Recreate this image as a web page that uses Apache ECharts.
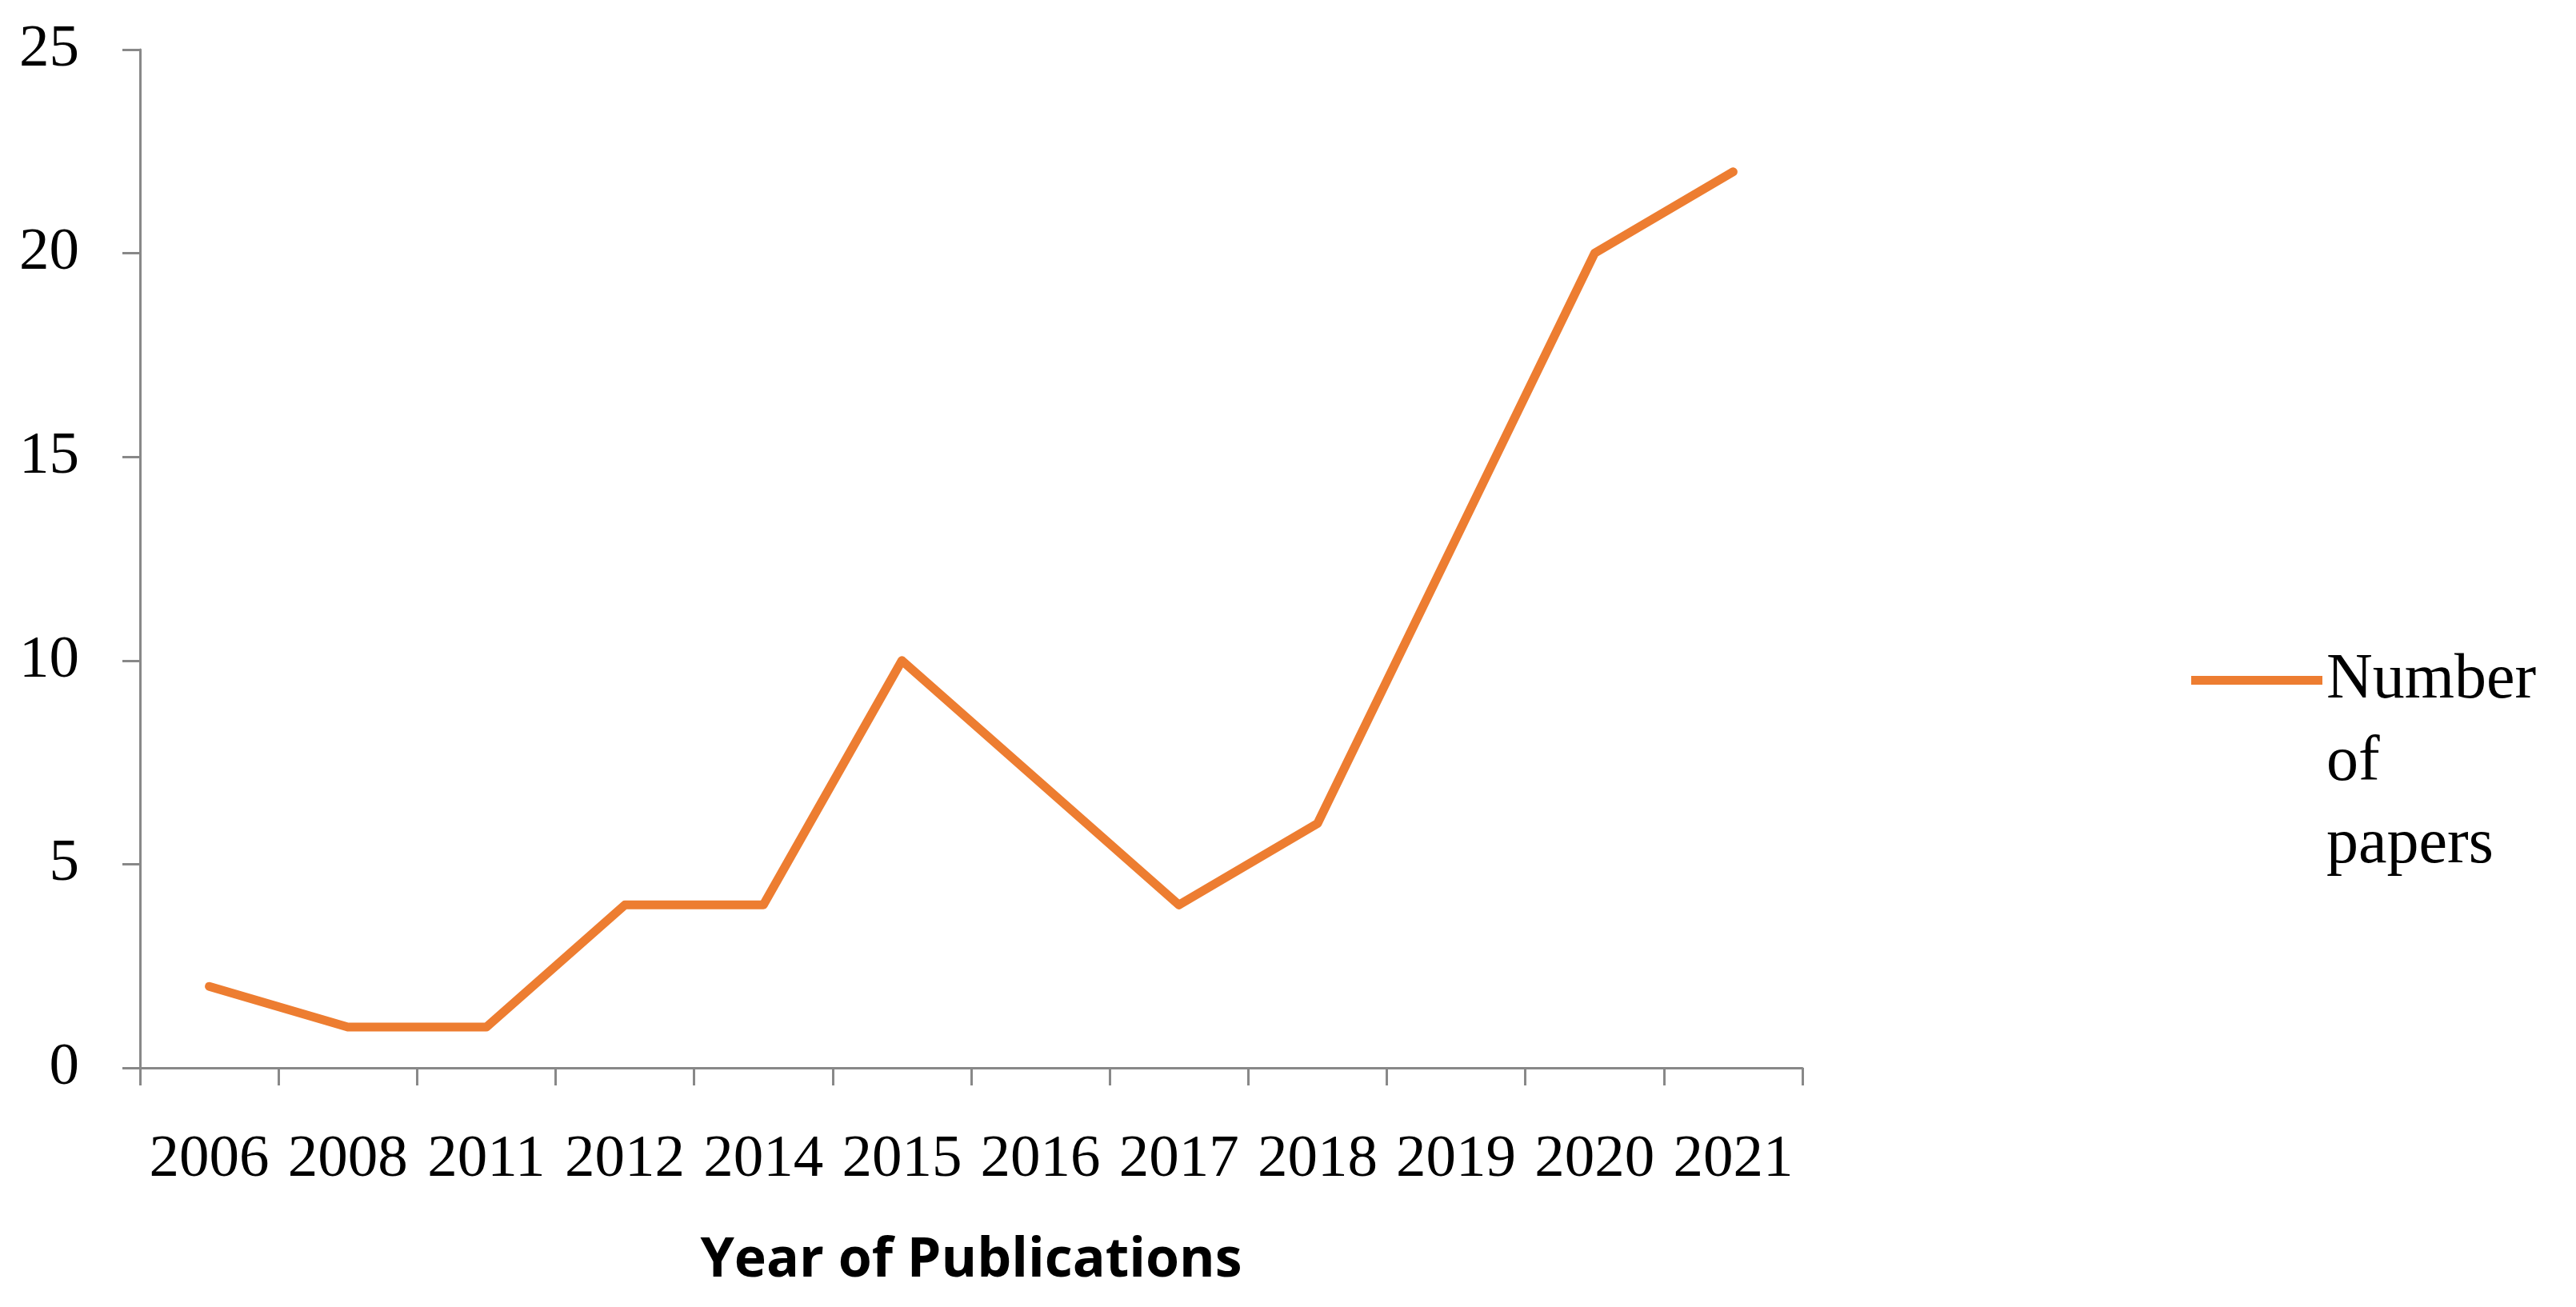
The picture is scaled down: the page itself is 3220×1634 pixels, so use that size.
<!DOCTYPE html>
<html><head><meta charset="utf-8">
<script src="https://cdn.jsdelivr.net/npm/echarts@6/dist/echarts.min.js"></script>
<style>html,body{margin:0;background:#fff}#main{width:3220px;height:1634px}</style>
</head><body><div id="main"></div>
<script>
var years = ['2006','2008','2011','2012','2014','2015','2016','2017','2018','2019','2020','2021'];
var papers = [2,1,1,4,4,10,7,4,6,13,20,22];
var yTicks = [0,5,10,15,20,25];

var myChart = echarts.init(document.getElementById('main'));
var option = {
	backgroundColor:'#fff',
	color:['#ED7D31'],
	grid:{left:175,right:967,top:62,bottom:299},
	legend:{
		data:['Number of papers'],
		left:2734,
		top:588,
		orient:'vertical',
		itemWidth:164,
		itemHeight:11,
		icon:'rect',
		// blank lines above keep the icon level with the first word
		formatter:function(){return '\n\nNumber\nof\npapers';},
		textStyle:{fontFamily:'Liberation Serif',fontSize:80,color:'#000',lineHeight:103}
	},
	xAxis:{
		type:'category',
		data:years,
		boundaryGap:true,
		name:'Year of Publications',
		nameLocation:'middle',
		nameGap:208,
		nameTextStyle:{fontFamily:'Open Sans',fontWeight:'bold',fontSize:68,color:'#000'},
		axisLine:{lineStyle:{color:'#888',width:3}},
		axisTick:{show:true,length:22,inside:false,lineStyle:{color:'#888',width:3}},
		axisLabel:{margin:78,fontFamily:'Liberation Serif',fontSize:75,color:'#000',interval:0}
	},
	yAxis:{
		type:'value',
		min:yTicks[0],
		max:yTicks[yTicks.length-1],
		interval:5,
		axisLine:{show:true,lineStyle:{color:'#888',width:3}},
		axisTick:{show:true,length:22,lineStyle:{color:'#888',width:3}},
		splitLine:{show:false},
		axisLabel:{margin:76,fontFamily:'Liberation Serif',fontSize:75,color:'#000'}
	},
	series:[{
		name:'Number of papers',
		type:'line',
		data:papers,
		symbol:'none',
		lineStyle:{width:11,color:'#ED7D31',cap:'round',join:'round'}
	}]
};
myChart.setOption(option,true);
</script></body></html>
